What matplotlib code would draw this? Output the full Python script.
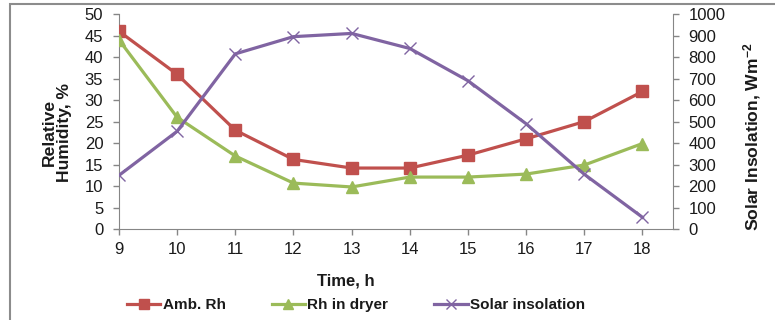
import matplotlib.pyplot as plt
from matplotlib.lines import Line2D
from matplotlib.patches import Rectangle

plt.rcParams["font.family"] = ["Liberation Sans", "DejaVu Sans"]

hours = [9, 10, 11, 12, 13, 14, 15, 16, 17, 18]
amb_rh = [46, 36, 23, 16.2, 14.2, 14.2, 17.2, 21, 25, 32]
dryer_rh = [44, 26, 17, 10.7, 9.8, 12.1, 12.1, 12.8, 14.9, 19.9]
solar = [250, 455, 815, 895, 910, 840, 690, 490, 255, 55]

RED = "#C0504D"
GREEN = "#9BBB59"
PURPLE = "#8064A2"
AXIS = "#868686"
TEXT = "#1a1a1a"

fig = plt.figure(figsize=(7.75, 3.2), dpi=100)
ax = fig.add_axes([0.1535, 0.284, 0.7145, 0.672])
ax2 = ax.twinx()

ax.plot(hours, amb_rh, color=RED, lw=2.3, marker="s", ms=8, zorder=3)
ax.plot(hours, dryer_rh, color=GREEN, lw=2.3, marker="^", ms=9, zorder=3)
ax2.plot(hours, solar, color=PURPLE, lw=2.3, marker="x", ms=9, mew=1.0, zorder=3)

ax.set_xlim(9, 18.52)
ax.set_ylim(0, 50)
ax2.set_ylim(0, 1000)
ax.set_xticks(hours)
ax.set_yticks(range(0, 51, 5))
ax2.set_yticks(range(0, 1001, 100))

for a in (ax, ax2):
    a.spines["top"].set_visible(False)
    for side in ("left", "right", "bottom"):
        a.spines[side].set_color(AXIS)
    a.tick_params(colors=AXIS, labelcolor=TEXT, labelsize=12, length=4.3, width=1, pad=7)
ax.spines["right"].set_visible(False)
ax2.spines["left"].set_visible(False)
ax2.spines["bottom"].set_visible(False)
ax.tick_params(axis="x", pad=5)

# axis titles placed in figure pixels
W, H = 775, 320
fig.text(57 / W, 1 - 132 / H, "Relative\nHumidity, %", rotation=90, ha="center", va="center",
         fontsize=12.6, fontweight="bold", color=TEXT, linespacing=0.95)
fig.text(752 / W, 1 - 137 / H, "Solar Insolation, Wm$\\mathregular{^{-2}}$", rotation=90,
         ha="center", va="center", fontsize=12.6, fontweight="bold", color=TEXT)
fig.text(346 / W, 1 - 281 / H, "Time, h", ha="center", va="center",
         fontsize=12, fontweight="bold", color=TEXT)

handles = [
    Line2D([], [], color=RED, lw=2.3, marker="s", ms=7),
    Line2D([], [], color=GREEN, lw=2.3, marker="^", ms=7),
    Line2D([], [], color=PURPLE, lw=2.3, marker="x", ms=7, mew=1.0),
]
fig.legend(handles, ["Amb. Rh", "Rh in dryer", "Solar insolation"],
           loc="center", bbox_to_anchor=(356 / W, 1 - 305 / H), ncol=3, frameon=False,
           handlelength=2.2, handletextpad=0.15, columnspacing=3.0,
           prop={"weight": "bold", "size": 11}, labelcolor=TEXT)

# outer chart frame
fig.patches.append(Rectangle((0.0135, -0.05), 1.2, 1.036, transform=fig.transFigure,
                             fill=False, edgecolor="#8c8c8c", lw=1.5))

fig.savefig("out.png", dpi=100)
